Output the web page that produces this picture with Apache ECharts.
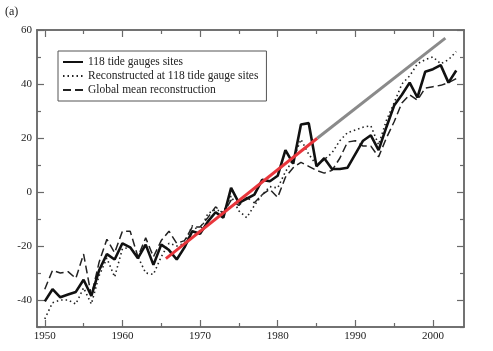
<!DOCTYPE html>
<html>
<head>
<meta charset="utf-8">
<script src="https://cdn.jsdelivr.net/npm/echarts@6/dist/echarts.min.js"></script>
<style>
  html, body { margin: 0; padding: 0; background: #fff; }
  #chart { width: 493px; height: 351px; }
</style>
</head>
<body>
<div id="chart"></div>
<script>
// annual values 1950-2003 (mm)
const years = [];
for (let y = 1950; y <= 2003; y++) years.push(y);

const tideGauges = [
  -40.5, -36, -39, -38, -37, -32.5, -38.5, -29, -23, -25,
  -19, -20.5, -24.5, -19.5, -27, -19.5, -21.5, -25, -20.5, -14.5,
  -15.5, -11, -7.5, -9.5, 1.5, -4, -2.5, -1, 4.5, 4,
  6, 15.5, 10.5, 25, 25.5, 9.5, 12.5, 8.5, 8.5, 9,
  14, 19, 21, 15.5, 24, 32, 36, 40.5, 35, 44.5,
  45.5, 47, 40.5, 45
];
const reconSites = [
  -47, -41, -40, -40, -41.5, -35.5, -41.5, -31, -24.5, -31.5,
  -21, -20.5, -24, -30, -30.5, -24, -19, -20, -19, -12.5,
  -14.5, -8, -6.5, -7.5, -1.5, -7, -9.5, -5, -1, 2,
  1.5, 7.5, 12, 19.5, 14, 10, 12, 14.5, 19, 22,
  23, 24, 24.5, 17.5, 26.5, 33, 40, 43, 47.5, 49,
  50, 47.5, 49, 52
];
const globalMean = [
  -36, -29, -30, -29.5, -32, -23, -38.5, -26, -17.5, -22.5,
  -14.5, -14.5, -24, -17, -24, -18, -14.5, -19, -18, -13,
  -13, -9.5, -5.5, -8, -3, -5, -2, -4, -1, 1,
  -2, 5.5, 9, 11, 9.5, 8, 7, 8, 12.5, 18.5,
  19, 17, 17, 13, 20, 26, 33, 36, 34, 38.5,
  39, 39.5, 40.5, 42
];

// trend segments [year, value]
const redTrend = [[1965.6, -24.7], [1985.1, 19.9]];
const grayTrend = [[1985.1, 19.9], [2001.6, 57]];

const xMajor = [1950, 1960, 1970, 1980, 1990, 2000];
const xMinor = [1955, 1965, 1975, 1985, 1995];
const yMajor = [-40, -20, 0, 20, 40, 60];
const yMinor = [-50, -30, -10, 10, 30, 50];

const pairs = vals => vals.map((v, i) => [years[i], v]);

const axisColor = '#6a6a6a';
const serif = 'Liberation Serif';

function xAx(pos, ticks, len, labels) {
  return {
    type: 'value', position: pos, min: 1949, max: 2004,
    axisLine: { show: true, onZero: false, lineStyle: { color: axisColor, width: 1.5 } },
    axisTick: { show: true, inside: true, length: len, customValues: ticks,
      lineStyle: { color: axisColor, width: 1.2 } },
    axisLabel: labels ? { customValues: ticks, color: '#222', fontFamily: serif,
      fontSize: 11, margin: 4, formatter: v => String(v) } : { show: false },
    splitLine: { show: false }
  };
}
function yAx(pos, ticks, len, labels) {
  return {
    type: 'value', position: pos, min: -50, max: 60,
    axisLine: { show: true, onZero: false, lineStyle: { color: axisColor, width: 1.5 } },
    axisTick: { show: true, inside: true, length: len, customValues: ticks,
      lineStyle: { color: axisColor, width: 1.2 } },
    axisLabel: labels ? { customValues: ticks, color: '#222', fontFamily: serif,
      fontSize: 11, margin: 5, formatter: v => String(v) } : { show: false },
    splitLine: { show: false }
  };
}

const chart = echarts.init(document.getElementById('chart'));
chart.setOption({
  animation: false,
  backgroundColor: '#fff',
  grid: { left: 37, right: 29, top: 30, bottom: 24 },
  graphic: [{
    type: 'text', left: 5, top: 6,
    style: { text: '(a)', font: '12px "Liberation Serif"', fill: '#222' }
  }],
  legend: {
    orient: 'vertical', left: 58, top: 51,
    data: ['118 tide gauges sites', 'Reconstructed at 118 tide gauge sites', 'Global mean reconstruction'],
    borderColor: '#555', borderWidth: 1, backgroundColor: '#fff',
    padding: [4, 8, 4, 4], itemGap: 0, itemWidth: 20, itemHeight: 10,
    itemStyle: { opacity: 0 },
    textStyle: { fontFamily: serif, fontSize: 11.5, color: '#222', lineHeight: 14 }
  },
  xAxis: [
    xAx('bottom', xMajor, 7, true),
    xAx('bottom', xMinor, 4, false),
    xAx('top', xMajor, 7, false),
    xAx('top', xMinor, 4, false)
  ],
  yAxis: [
    yAx('left', yMajor, 7, true),
    yAx('left', yMinor, 4, false),
    yAx('right', yMajor, 7, false),
    yAx('right', yMinor, 4, false)
  ],
  series: [
    {
      name: '118 tide gauges sites', type: 'line', data: pairs(tideGauges),
      symbol: 'none', lineStyle: { color: '#111', width: 2.6 }, itemStyle: { color: '#111' }, z: 3
    },
    {
      name: 'Reconstructed at 118 tide gauge sites', type: 'line', data: pairs(reconSites),
      symbol: 'none', lineStyle: { color: '#222', width: 1.6, type: [1.5, 3] }, itemStyle: { color: '#222' }, z: 2
    },
    {
      name: 'Global mean reconstruction', type: 'line', data: pairs(globalMean),
      symbol: 'none', lineStyle: { color: '#222', width: 1.5, type: [8, 4] }, itemStyle: { color: '#222' }, z: 2
    },
    {
      name: 'red trend', type: 'line', data: redTrend, symbol: 'none',
      lineStyle: { color: '#e8353b', width: 3 }, z: 4
    },
    {
      name: 'gray trend', type: 'line', data: grayTrend, symbol: 'none',
      lineStyle: { color: '#8a8a8a', width: 3 }, z: 4
    }
  ]
});
</script>
</body>
</html>
